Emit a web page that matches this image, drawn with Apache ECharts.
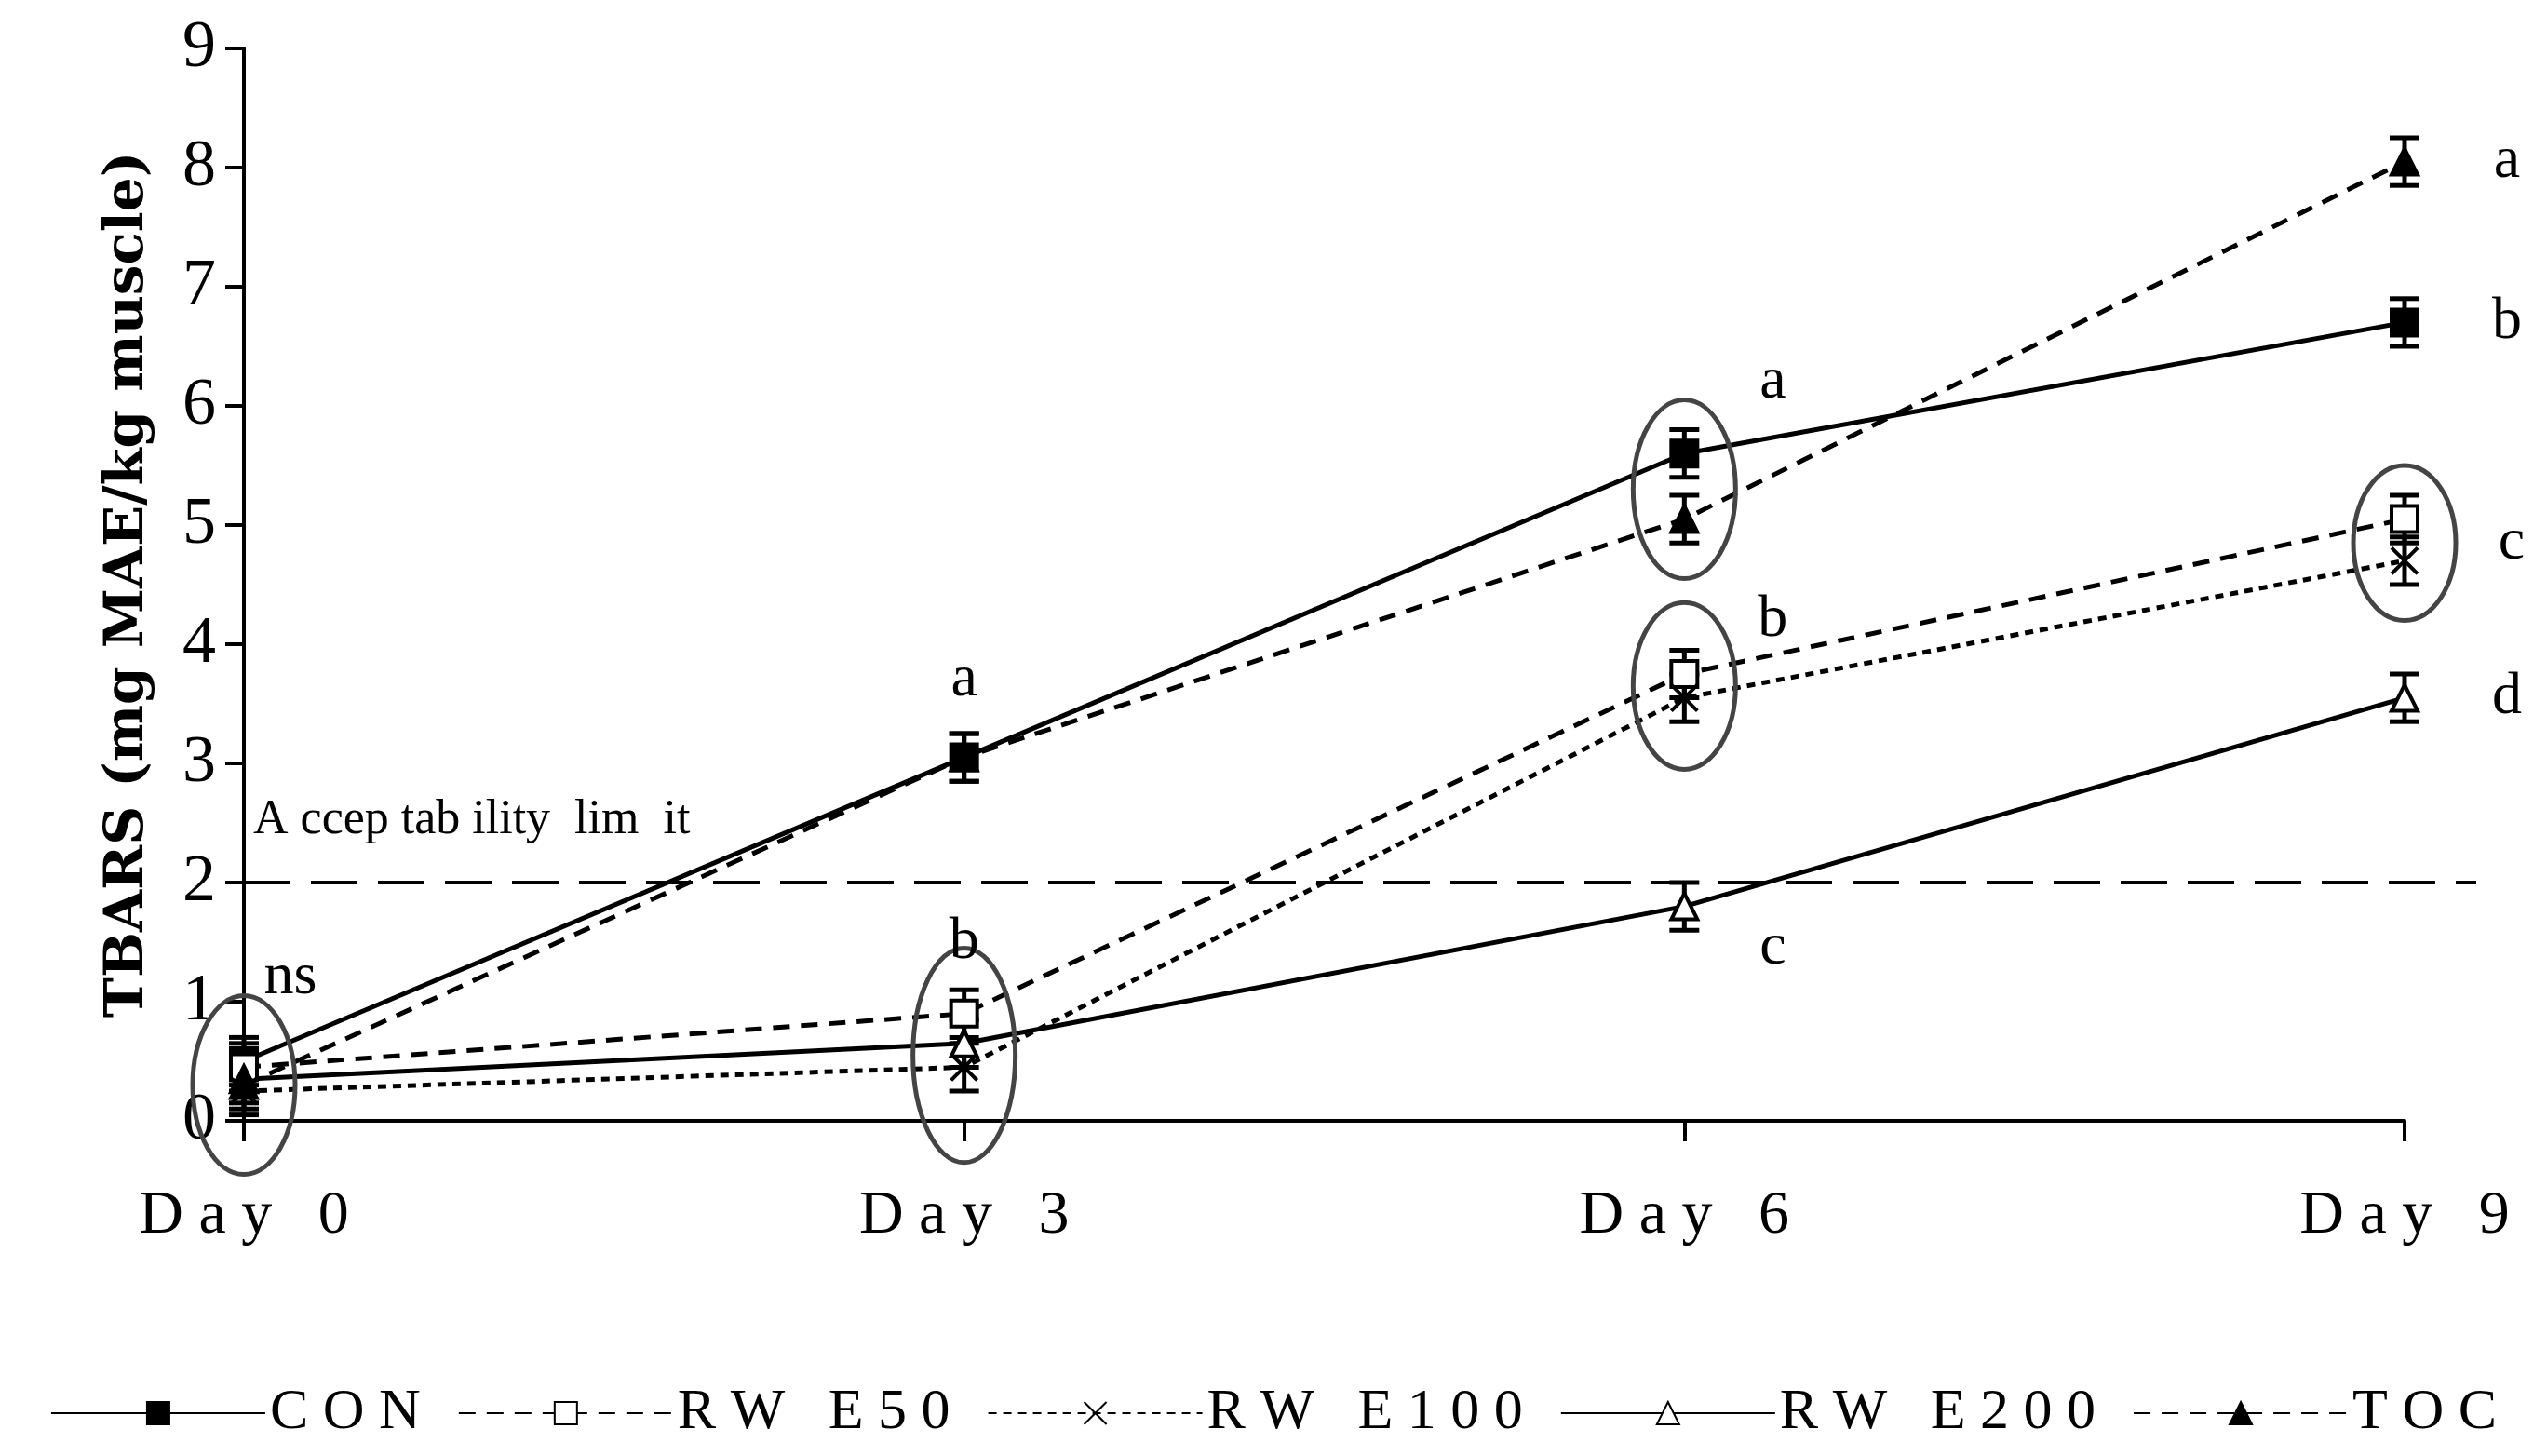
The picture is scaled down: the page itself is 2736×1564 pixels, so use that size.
<!DOCTYPE html>
<html><head><meta charset="utf-8">
<script src="https://cdn.jsdelivr.net/npm/echarts@6/dist/echarts.min.js"></script>
<style>html,body{margin:0;background:#fff}#c{width:2736px;height:1564px}</style></head>
<body><div id="c"></div>
<script>
const days = ['Day 0','Day 3','Day 6','Day 9'];
const CON = [0.5, 3.05, 5.6, 6.7];
const RWE50 = [0.45, 0.9, 3.75, 5.05];
const RWE100 = [0.25, 0.45, 3.55, 4.7];
const RWE200 = [0.35, 0.65, 1.8, 3.55];
const TOC = [0.3, 3.05, 5.05, 8.05];
const ERR = 0.2;
// ellipses: [dayIndex, centerY, halfHeight]
const ellipses = [[0,0.3,0.75],[1,0.55,0.9],[2,5.3,0.75],[2,3.65,0.7],[3,4.85,0.65]];
// letters: [dayIndex, y, text, x shift in pixels]
const letters = [[0,1.2,'ns',50],[1,3.7,'a',0],[1,1.5,'b',0],[2,6.2,'a',95],[2,4.2,'b',95],[2,1.45,'c',95],[3,8.05,'a',110],[3,6.7,'b',110],[3,4.85,'c',115],[3,3.55,'d',110]];
const LIMIT = 2;
const F = 'Liberation Serif';
const chart = echarts.init(document.getElementById('c'));
function errSeries(arr){
  return {type:'custom',silent:true,z:5,data:arr.map((v,i)=>[i,v]),
    renderItem:(p,api)=>{const x=api.coord([api.value(0),0])[0];
      const t=api.coord([0,api.value(1)+ERR])[1], b=api.coord([0,api.value(1)-ERR])[1];
      const s={stroke:'#000',lineWidth:5};
      return {type:'group',children:[
        {type:'line',shape:{x1:x,y1:t,x2:x,y2:b},style:s},
        {type:'line',shape:{x1:x-16,y1:t,x2:x+16,y2:t},style:s},
        {type:'line',shape:{x1:x-16,y1:b,x2:x+16,y2:b},style:s}]};}};
}
function line(name,data,dash,sym,fill){
  return {name,type:'line',data,symbol:sym,symbolSize:28,z:6,
    lineStyle:{color:'#000',width:5,type:dash},
    itemStyle:{color:fill,borderColor:'#000',borderWidth:4}};
}
const series=[
  line('CON',CON,'solid','rect','#000'),
  line('RWE50',RWE50,[18,12],'rect','#fff'),
  line('RWE100',RWE100,[9,7],'path://M0,0L10,10M10,0L0,10','#000'),
  line('RWE200',RWE200,'solid','triangle','#fff'),
  line('TOC',TOC,[18,12],'triangle','#000'),
  errSeries(CON),errSeries(RWE50),errSeries(RWE100),errSeries(RWE200),errSeries(TOC),
  {type:'custom',silent:true,z:7,data:ellipses,
   renderItem:(p,api)=>{const c=api.coord([api.value(0),api.value(1)]);
     const t=api.coord([0,api.value(1)+api.value(2)])[1];
     return {type:'ellipse',shape:{cx:c[0],cy:c[1],rx:55,ry:c[1]-t},style:{fill:'none',stroke:'#444',lineWidth:5}};}},
  {type:'custom',silent:true,z:8,data:letters,
   renderItem:(p,api)=>{const c=api.coord([api.value(0),api.value(1)]);
     return {type:'text',x:c[0]+api.value(3),y:c[1],style:{text:letters[p.dataIndex][2],font:'64px "Liberation Serif"',fill:'#000',align:'center',verticalAlign:'middle'}};}},
  {type:'custom',silent:true,z:4,data:[[0,LIMIT]],
   renderItem:(p,api)=>{const c=api.coord([0,api.value(1)]);
     return {type:'line',shape:{x1:c[0],y1:c[1],x2:2660,y2:c[1]},style:{stroke:'#000',lineWidth:4,lineDash:[50,22]}};}}
];
chart.setOption({
  animation:false,
  grid:{left:262,right:153,top:52,bottom:360,containLabel:false},
  graphic:[{type:'text',left:272,top:855,style:{text:'A ccep tab ility  lim  it',font:'52px "Liberation Serif"',fill:'#000'}}],
  legend:{bottom:10,left:'center',itemWidth:230,itemHeight:30,itemGap:40,
    data:['CON','RWE50','RWE100','RWE200','TOC'],
    formatter:n=>n.replace('RWE','RW E').split('').join(' '),
    textStyle:{fontFamily:F,fontSize:62,color:'#000'}},
  xAxis:{type:'category',data:days,boundaryGap:false,
    axisLine:{lineStyle:{color:'#000',width:4}},
    axisTick:{alignWithLabel:true,length:22,lineStyle:{width:4,color:'#000'}},
    axisLabel:{fontFamily:F,fontSize:66,color:'#000',margin:70,formatter:v=>v.split('').join(' ')}},
  yAxis:{type:'value',min:0,max:9,interval:1,name:'TBARS (mg MAE/kg muscle)',nameLocation:'middle',nameGap:95,
    nameTextStyle:{fontFamily:'DejaVu Serif',fontWeight:'bold',fontSize:58,color:'#000'},
    axisLine:{show:true,lineStyle:{color:'#000',width:4}},
    axisTick:{show:true,length:20,lineStyle:{width:4,color:'#000'}},splitLine:{show:false},
    axisLabel:{fontFamily:F,fontSize:72,color:'#000',margin:30}},
  series
});
</script></body></html>
